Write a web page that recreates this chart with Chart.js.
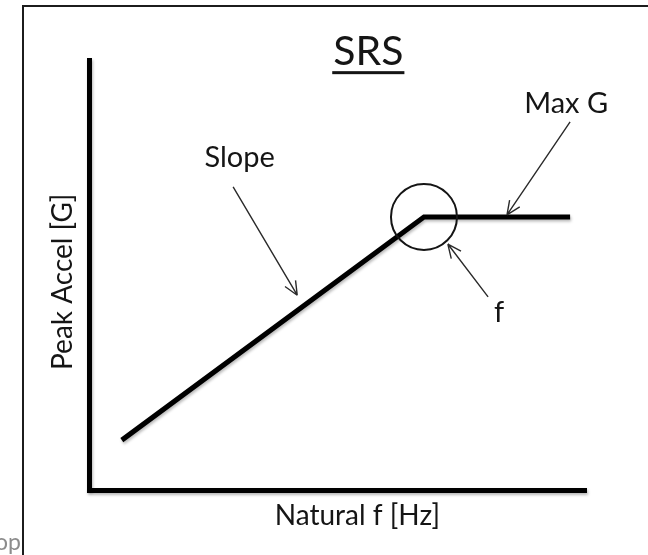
<!DOCTYPE html>
<html>
<head>
<meta charset="utf-8">
<title>SRS</title>
<script src="https://cdn.jsdelivr.net/npm/chart.js@4.4.1/dist/chart.umd.min.js"></script>
<style>
  html, body { margin: 0; padding: 0; background: #fff; }
  #wrap { position: relative; width: 648px; height: 555px; overflow: hidden; }
  #frame { position: absolute; left: 22px; top: 5px; right: -4px; bottom: -4px;
           border-left: 2px solid #1c1c1c; border-top: 2px solid #1c1c1c; pointer-events: none; }
  #cut { position: absolute; right: 627px; top: 527px; font: 23px Lato, sans-serif; color: #8c8c8c; }
</style>
</head>
<body>
<div id="wrap">
  <canvas id="srsChart"></canvas>
  <div id="frame"></div>
  <span id="cut">op</span>
</div>
<script>
// ===============================================
// === DATA (schematic units, both axes 0 - 100) ===
// ===============================================
const naturalFreq = [6.6, 67.4, 96.8];   // start, knee (f), end
const peakAccel   = [11.6, 63.5, 63.5];
const axisRange   = [0, 100];

const titleText  = 'SRS';
const xAxisTitle = 'Natural f [Hz]';
const yAxisTitle = 'Peak Accel [G]';

// callouts: label text + arrow, in data units
const callouts = [
  { text: 'Slope', at: [30.3, 75.1], from: [29.0, 70.5], to: [41.9, 45.3] },
  { text: 'Max G', at: [96.0, 87.7], from: [96.8, 85.6], to: [84.1, 64.0] },
  { text: 'f',     at: [82.5, 39.1], from: [80.3, 44.9], to: [72.2, 57.2] }
];

const FONT = 'Lato, "Open Sans", sans-serif';
const INK = '#151515';

// ===============================================
// === PLUGIN: soft shadow under the axes and the curve ===
// ===============================================
const softShadow = {
  id: 'softShadow',
  beforeDraw(chart) {
    const ctx = chart.ctx;
    ctx.save();
    ctx.shadowColor = 'rgba(0, 0, 0, 0.28)';
    ctx.shadowBlur = 3;
    ctx.shadowOffsetX = 1;
    ctx.shadowOffsetY = 2;
  },
  afterDatasetsDraw(chart) {
    chart.ctx.restore();
  }
};

// ===============================================
// === PLUGIN: title, axis titles, callouts, circle ===
// ===============================================
const srsDecor = {
  id: 'srsDecor',
  afterDraw(chart) {
    const { ctx, scales: { x, y } } = chart;
    const px = v => x.getPixelForValue(v);
    const py = v => y.getPixelForValue(v);

    ctx.save();
    ctx.fillStyle = INK;
    ctx.strokeStyle = INK;

    // circle round the knee point
    ctx.beginPath();
    ctx.arc(px(naturalFreq[1]), py(peakAccel[1]), 33, 0, Math.PI * 2);
    ctx.lineWidth = 2;
    ctx.stroke();

    // arrows
    ctx.lineWidth = 1.4;
    ctx.strokeStyle = '#2a2a2a';
    callouts.forEach(c => {
      const x1 = px(c.from[0]), y1 = py(c.from[1]);
      const x2 = px(c.to[0]), y2 = py(c.to[1]);
      const ang = Math.atan2(y2 - y1, x2 - x1);
      ctx.beginPath();
      ctx.moveTo(x1, y1);
      ctx.lineTo(x2, y2);
      [0.42, -0.42].forEach(d => {
        ctx.moveTo(x2, y2);
        ctx.lineTo(x2 - 15 * Math.cos(ang + d), y2 - 15 * Math.sin(ang + d));
      });
      ctx.stroke();
    });

    // callout labels
    ctx.font = '29px ' + FONT;
    ctx.textAlign = 'center';
    ctx.textBaseline = 'alphabetic';
    callouts.forEach(c => ctx.fillText(c.text, px(c.at[0]), py(c.at[1])));

    // underlined title
    ctx.font = '41px ' + FONT;
    const tx = px(56.2), ty = py(98.8);
    ctx.fillText(titleText, tx, ty);
    const w = ctx.measureText(titleText).width;
    ctx.fillRect(tx - w / 2 - 1, ty + 6, w + 2, 3);

    // axis titles
    ctx.font = '28px ' + FONT;
    ctx.fillText(xAxisTitle, px(54.0), py(-8.1));
    ctx.translate(px(-3.4), py(48.4));
    ctx.rotate(-Math.PI / 2);
    ctx.fillText(yAxisTitle, 0, 0);

    ctx.restore();
  }
};

// ===============================================
// === CHART ===
// ===============================================
const axisOpts = {
  type: 'linear',
  min: axisRange[0],
  max: axisRange[1],
  ticks: { display: false },
  grid: { display: false, drawTicks: false },
  border: { display: true, color: '#000', width: 5 },
  title: { display: false }
};

new Chart(document.getElementById('srsChart'), {
  type: 'line',
  data: {
    datasets: [{
      data: naturalFreq.map((f, i) => ({ x: f, y: peakAccel[i] })),
      borderColor: '#000',
      borderWidth: 5,
      pointRadius: 0,
      tension: 0,
      fill: false
    }]
  },
  options: {
    responsive: true,
    maintainAspectRatio: false,
    animation: false,
    layout: { padding: { left: 89, top: 60, right: 62, bottom: 65 } },
    scales: { x: axisOpts, y: axisOpts },
    plugins: { legend: { display: false }, tooltip: { enabled: false } }
  },
  plugins: [softShadow, srsDecor]
});
</script>
</body>
</html>
